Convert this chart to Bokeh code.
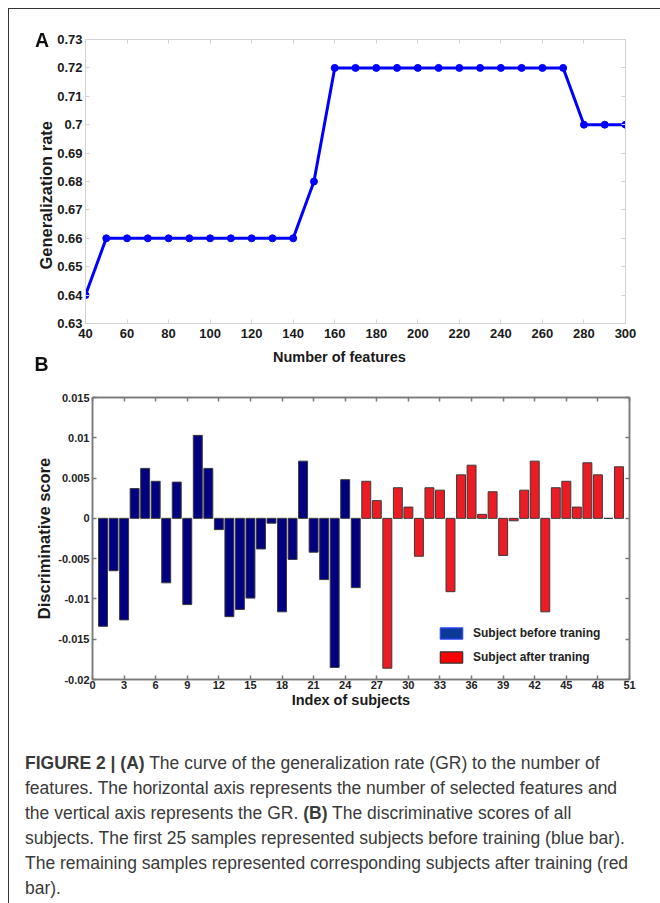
from bokeh.plotting import figure
from bokeh.models import (LinearAxis, FixedTicker, CustomJSTickFormatter, Legend,
                          LegendItem, Div, Range1d, ColumnDataSource, Column)
from bokeh.layouts import column
from bokeh.embed import file_html
from bokeh.resources import INLINE

# ---------------- data ----------------
n_features = [40, 50, 60, 70, 80, 90, 100, 110, 120, 130, 140, 150, 160, 170, 180, 190,
              200, 210, 220, 230, 240, 250, 260, 270, 280, 290, 300]
gen_rate = [0.64, 0.66, 0.66, 0.66, 0.66, 0.66, 0.66, 0.66, 0.66, 0.66, 0.66, 0.68,
            0.72, 0.72, 0.72, 0.72, 0.72, 0.72, 0.72, 0.72, 0.72, 0.72, 0.72, 0.72,
            0.70, 0.70, 0.70]
x_ticks_a = [40, 60, 80, 100, 120, 140, 160, 180, 200, 220, 240, 260, 280, 300]
y_ticks_a = [0.63, 0.64, 0.65, 0.66, 0.67, 0.68, 0.69, 0.70, 0.71, 0.72, 0.73]

idx_before = list(range(1, 26))
scores_before = [-0.0134, -0.0065, -0.0126, 0.0037, 0.0062, 0.0046, -0.0080, 0.0045,
                 -0.0107, 0.0103, 0.0062, -0.0014, -0.0122, -0.0113, -0.0099, -0.0038,
                 -0.0006, -0.0116, -0.0051, 0.0071, -0.0042, -0.0076, -0.0185, 0.0048,
                 -0.0086]
idx_after = list(range(26, 51))
scores_after = [0.0046, 0.0022, -0.0186, 0.0038, 0.0014, -0.0047, 0.0038, 0.0035,
                -0.0091, 0.0054, 0.0066, 0.0005, 0.0033, -0.0046, -0.0003, 0.0035,
                0.0071, -0.0116, 0.0038, 0.0046, 0.0014, 0.0069, 0.0054, 0.0, 0.0064]
x_ticks_b = list(range(0, 52, 3))
y_ticks_b = [-0.02, -0.015, -0.01, -0.005, 0.0, 0.005, 0.01, 0.015]
legend_labels = ["Subject before traning", "Subject after traning"]
panel_letters = ["A", "B"]

FONT = "Liberation Sans"
NB = "\u00a0"
fmt = CustomJSTickFormatter(code="return tick.toFixed(3).replace(/\\.?0+$/, '');")


def style_axis(ax, ticks, color, width, label_size, label_color, standoff):
    ax.ticker = FixedTicker(ticks=ticks)
    ax.major_tick_in = 4
    ax.major_tick_out = 0
    ax.minor_tick_line_color = None
    ax.axis_line_color = color
    ax.axis_line_width = width
    ax.major_tick_line_color = color
    ax.major_tick_line_width = width
    ax.major_label_text_font = FONT
    ax.major_label_text_font_style = "bold"
    ax.major_label_text_font_size = label_size
    ax.major_label_text_color = label_color
    ax.major_label_standoff = standoff


def frame_axis(p, side, ticks, color, width):
    ax = LinearAxis()
    style_axis(ax, ticks, color, width, "0px", None, 0)
    p.add_layout(ax, side)


def axis_title(ax, text, size, standoff):
    ax.axis_label = text
    ax.axis_label_text_font = FONT
    ax.axis_label_text_font_style = "bold"
    ax.axis_label_text_font_size = size
    ax.axis_label_text_color = "#1a1a1a"
    ax.axis_label_standoff = standoff


# ---------------- panel A ----------------
pA = figure(width=651, height=371, x_range=Range1d(40, 300), y_range=Range1d(0.63, 0.73),
            output_backend="svg", toolbar_location=None,
            min_border_left=76, min_border_right=35, min_border_top=30, min_border_bottom=57)
pA.grid.visible = False
pA.outline_line_color = "#d6d6d6"
colA = "#d2d2d2"
xA, yA = pA.xaxis[0], pA.yaxis[0]
style_axis(xA, x_ticks_a, colA, 1, "13px", "#1a1a1a", 5)
style_axis(yA, y_ticks_a, colA, 1, "13px", "#1a1a1a", 3)
yA.formatter = fmt
axis_title(xA, "Number of features" + NB * 8, "14.5px", 8)
axis_title(yA, "Generalization rate" + NB * 6, "16.5px", -1)
frame_axis(pA, "above", x_ticks_a, colA, 1)
frame_axis(pA, "right", y_ticks_a, colA, 1)

pA.line(n_features, gen_rate, line_width=3, line_color="#0000ff")
pA.scatter(n_features, gen_rate, size=7, fill_color="#0000ff", line_color="#0000ff")

# ---------------- panel B ----------------
pB = figure(width=651, height=339, x_range=Range1d(0, 51), y_range=Range1d(-0.02, 0.015),
            output_backend="svg", toolbar_location=None,
            min_border_left=83, min_border_right=31, min_border_top=17, min_border_bottom=40)
pB.grid.visible = False
colB = "#7a7a7a"
pB.outline_line_color = colB
pB.outline_line_width = 1.5
xB, yB = pB.xaxis[0], pB.yaxis[0]
style_axis(xB, x_ticks_b, colB, 1.5, "11px", "#222222", 1)
style_axis(yB, y_ticks_b, colB, 1.5, "11px", "#222222", 3)
yB.formatter = fmt
axis_title(xB, "Index of subjects" + NB * 5, "14.5px", 0)
axis_title(yB, "Discriminative score", "16.5px", 2)
frame_axis(pB, "above", x_ticks_b, colB, 1.5)
frame_axis(pB, "right", y_ticks_b, colB, 1.5)

pB.vbar(x=idx_before, top=scores_before, bottom=0, width=0.85,
        fill_color="#000080", line_color="#3a3a3a", line_width=1)
pB.vbar(x=idx_after, top=scores_after, bottom=0, width=0.85,
        fill_color="#ec1c24", line_color="#3a3a3a", line_width=1)

# legend proxies (kept outside the visible x range)
proxy = ColumnDataSource(dict(x=[-100], top=[0]))
r_leg1 = pB.vbar(x="x", top="top", width=0.8, source=proxy,
                 fill_color="#0a3a96", line_color="#3344ff", line_width=1.2)
r_leg2 = pB.vbar(x="x", top="top", width=0.8, source=proxy,
                 fill_color="#ff0000", line_color="#333333", line_width=1.2)
legend = Legend(items=[LegendItem(label=legend_labels[0], renderers=[r_leg1]),
                       LegendItem(label=legend_labels[1], renderers=[r_leg2])],
                location=(345, 15), padding=0, margin=0, spacing=10,
                glyph_width=28, glyph_height=14, label_height=14, label_standoff=8,
                border_line_color=None, background_fill_alpha=0,
                label_text_font=FONT, label_text_font_style="bold",
                label_text_font_size="12px", label_text_color="#222222")
pB.add_layout(legend)

# ---------------- caption (also carries the panel letters) ----------------
letter_css = ("position:fixed;font-family:'Liberation Sans',Arial,sans-serif;"
              "font-weight:bold;font-size:19.5px;line-height:19.5px;color:#111111;")
letters_html = (
    f"<span style=\"{letter_css}left:35px;top:30.5px;\">{panel_letters[0]}</span>"
    f"<span style=\"{letter_css}left:34.5px;top:355px;\">{panel_letters[1]}</span>"
)
caption_html = (
    letters_html +
    "<div style=\"font-family:'Liberation Sans',Arial,sans-serif;font-size:17.5px;"
    "line-height:25px;color:#3a3a3a;padding:27px 0 0 11px;white-space:nowrap;\">"
    "<b>FIGURE 2 | (A)</b> The curve of the generalization rate (GR) to the number of<br>"
    "features. The horizontal axis represents the number of selected features and<br>"
    "the vertical axis represents the GR. <b>(B)</b> The discriminative scores of all<br>"
    "subjects. The first 25 samples represented subjects before training (blue bar).<br>"
    "The remaining samples represented corresponding subjects after training (red<br>"
    "bar).</div>"
)
cap = Div(text=caption_html, width=651, height=176)

layout = column(Column(pA), Column(pB), cap,
                styles={"border-left": "1px solid #333333",
                        "border-top": "1px solid #333333",
                        "margin-left": "8px", "margin-top": "8px"})

open("out.html", "w").write(file_html(layout, INLINE))
